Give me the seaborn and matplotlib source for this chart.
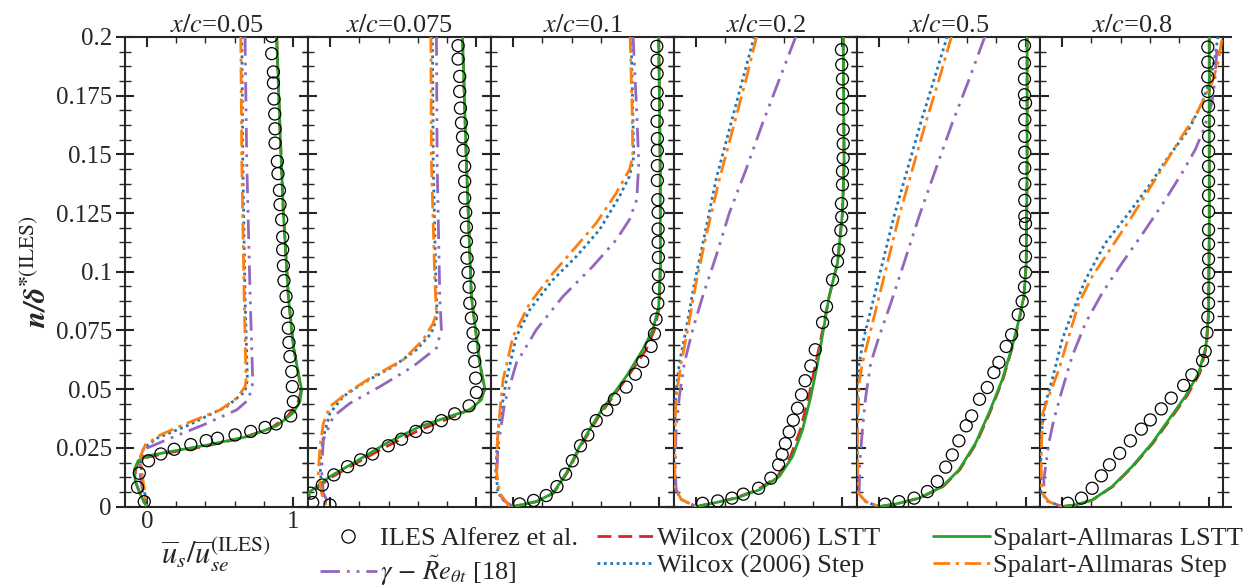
import numpy as np
import pandas as pd
import matplotlib
matplotlib.use("Agg")
import matplotlib.pyplot as plt
from matplotlib.lines import Line2D
from matplotlib.ticker import MultipleLocator, FuncFormatter
import seaborn as sns

# ---------------- data (u_s/u_se, n/delta*) ----------------
stations = ["0.05", "0.075", "0.1", "0.2", "0.5", "0.8"]

# x/c = 0.05
ILES_005 = [(0.852,0.2003),(0.852,0.1929),(0.864,0.1851),(0.864,0.1804),(0.868,0.1736),(0.873,0.1672),(0.875,0.1609),(0.875,0.1548),(0.891,0.1470),(0.895,0.1418),(0.905,0.1347),(0.909,0.1286),(0.920,0.1222),(0.927,0.1148),(0.927,0.1094),(0.932,0.1026),(0.936,0.0962),(0.950,0.0895),(0.959,0.0827),(0.966,0.0760),(0.970,0.0699),(0.977,0.0639),(0.989,0.0575),(0.993,0.0511),(1.000,0.0447),(0.982,0.0386),(0.882,0.0352),(0.807,0.0337),(0.709,0.0320),(0.602,0.0305),(0.482,0.0291),(0.405,0.0281),(0.300,0.0264),(0.186,0.0244),(0.095,0.0224),(0.011,0.0195),(-0.052,0.0142),(-0.064,0.0082),(-0.018,0.0021)]
WLSTT_005 = [(0.886,0.2003),(0.909,0.1605),(0.932,0.125),(0.966,0.0895),(1.0,0.0682),(1.034,0.0568),(1.052,0.0490),(1.030,0.0440),(0.960,0.0385),(0.850,0.0335),(0.650,0.0292),(0.400,0.0257),(0.140,0.0228),(0.0,0.0210),(-0.060,0.0190),(-0.080,0.0150),(-0.075,0.0100),(-0.050,0.0060),(-0.020,0.0020),(0.0,0.0)]
SALSTT_005 = [(0.886,0.2003),(0.909,0.1605),(0.932,0.125),(0.966,0.0895),(1.0,0.0682),(1.034,0.0568),(1.057,0.0497),(1.045,0.0447),(1.0,0.0400),(0.890,0.0345),(0.700,0.0300),(0.410,0.0262),(0.140,0.0232),(0.0,0.0215),(-0.060,0.0195),(-0.085,0.0160),(-0.080,0.0110),(-0.050,0.0060),(-0.020,0.0020),(0.0,0.0)]
WSTEP_005 = [(0.648,0.2003),(0.655,0.1463),(0.670,0.0895),(0.686,0.0540),(0.670,0.0490),(0.545,0.0426),(0.273,0.0344),(0.068,0.0291),(-0.023,0.0249),(-0.045,0.0199),(-0.034,0.0128),(-0.011,0.0043),(0.0,0.0)]
SASTEP_005 = [(0.641,0.2003),(0.648,0.1463),(0.664,0.0895),(0.677,0.0540),(0.670,0.0511),(0.614,0.0462),(0.500,0.0412),(0.273,0.0355),(0.091,0.0305),(-0.011,0.0263),(-0.045,0.0213),(-0.034,0.0142),(-0.011,0.0043),(0.0,0.0)]
GAMMA_005 = [(0.670,0.2003),(0.682,0.1463),(0.705,0.0895),(0.723,0.0526),(0.693,0.0455),(0.614,0.0412),(0.386,0.0348),(0.159,0.0291),(0.0,0.0249),(-0.045,0.0199),(-0.045,0.0128),(-0.023,0.0043),(0.0,0.0)]

# x/c = 0.075
ILES_0075 = [(0.875,0.1963),(0.875,0.1906),(0.886,0.1832),(0.886,0.1768),(0.891,0.1697),(0.898,0.1634),(0.905,0.1574),(0.909,0.1517),(0.920,0.1449),(0.920,0.1385),(0.920,0.1314),(0.927,0.1253),(0.932,0.1190),(0.932,0.1129),(0.936,0.1058),(0.943,0.0997),(0.950,0.0935),(0.955,0.0866),(0.966,0.0803),(0.977,0.0739),(0.982,0.0679),(0.989,0.0618),(0.995,0.0547),(1.000,0.0486),(0.950,0.0429),(0.852,0.0395),(0.761,0.0366),(0.664,0.0338),(0.586,0.0320),(0.489,0.0287),(0.398,0.0259),(0.291,0.0224),(0.209,0.0199),(0.120,0.0170),(0.027,0.0135),(-0.052,0.0092),(-0.132,0.0057),(-0.118,0.0017),(0.0,0.0007)]
WLSTT_0075 = [(0.905,0.2003),(0.932,0.1463),(0.966,0.0895),(1.023,0.0611),(1.057,0.0497),(1.0,0.0426),(0.864,0.0388),(0.614,0.0327),(0.386,0.0256),(0.159,0.0178),(0.0,0.0121),(-0.136,0.0057),(-0.16,0.002)]
SALSTT_0075 = [(0.905,0.2003),(0.932,0.1463),(0.966,0.0895),(1.023,0.0611),(1.057,0.0504),(1.034,0.0455),(0.955,0.0412),(0.818,0.0384),(0.614,0.0341),(0.386,0.0270),(0.159,0.0185),(0.0,0.0128),(-0.136,0.0064),(-0.16,0.003)]
WSTEP_0075 = [(0.700,0.2003),(0.705,0.1463),(0.723,0.0966),(0.732,0.0810),(0.693,0.0739),(0.591,0.0668),(0.432,0.0597),(0.227,0.0526),(0.091,0.0469),(0.0,0.0398),(-0.045,0.0298),(-0.068,0.0185),(-0.057,0.0071),(-0.023,0.0)]
SASTEP_0075 = [(0.689,0.2003),(0.693,0.1463),(0.716,0.0966),(0.727,0.0824),(0.705,0.0781),(0.636,0.0710),(0.5,0.0625),(0.273,0.0547),(0.114,0.0483),(0.0,0.0426),(-0.045,0.0355),(-0.068,0.0256),(-0.080,0.0142),(-0.057,0.0057),(-0.023,0.0)]
GAMMA_0075 = [(0.727,0.2003),(0.732,0.1463),(0.75,0.0895),(0.761,0.0753),(0.727,0.0675),(0.568,0.0597),(0.341,0.0511),(0.136,0.0440),(0.023,0.0384),(-0.045,0.0284),(-0.057,0.0156),(-0.045,0.0057),(0.0,0.0)]

# x/c = 0.1
ILES_01 = [(0.982,0.1960),(0.984,0.1901),(0.984,0.1844),(0.984,0.1764),(0.984,0.1712),(0.984,0.1641),(0.986,0.1567),(0.986,0.1517),(0.986,0.1452),(0.986,0.1389),(0.989,0.1307),(0.991,0.1253),(0.991,0.1182),(0.991,0.1126),(0.993,0.1061),(0.993,0.0987),(0.993,0.0930),(0.989,0.0866),(0.977,0.0798),(0.966,0.0736),(0.943,0.0682),(0.886,0.0618),(0.836,0.0564),(0.773,0.0509),(0.693,0.0457),(0.641,0.0412),(0.568,0.0366),(0.511,0.0305),(0.461,0.0259),(0.405,0.0195),(0.359,0.0138),(0.300,0.0085),(0.227,0.0047),(0.141,0.0026),(0.045,0.0011)]
WLSTT_01 = [(0.995,0.2003),(1.005,0.1463),(1.007,0.1037),(1.0,0.0852),(0.966,0.0753),(0.909,0.0668),(0.784,0.0554),(0.6,0.0398),(0.46,0.0256),(0.368,0.0142),(0.277,0.0057),(0.16,0.0021),(0.0,0.0)]
SALSTT_01 = [(0.995,0.2003),(1.005,0.1463),(1.007,0.1037),(0.995,0.0852),(0.955,0.0753),(0.886,0.0668),(0.773,0.0554),(0.591,0.0398),(0.455,0.0256),(0.364,0.0142),(0.273,0.0057),(0.159,0.0021),(0.0,0.0)]
WSTEP_01 = [(0.807,0.2003),(0.818,0.1676),(0.825,0.1491),(0.795,0.1406),(0.727,0.1321),(0.591,0.1179),(0.432,0.1065),(0.273,0.0966),(0.114,0.0838),(0.023,0.0724),(-0.045,0.0540),(-0.102,0.0327),(-0.118,0.0156),(-0.102,0.0057),(-0.023,0.0)]
SASTEP_01 = [(0.800,0.2003),(0.814,0.1676),(0.818,0.1491),(0.795,0.1435),(0.705,0.1335),(0.568,0.1207),(0.432,0.1108),(0.273,0.0994),(0.114,0.0866),(0.0,0.0724),(-0.068,0.0540),(-0.102,0.0327),(-0.114,0.0156),(-0.091,0.0057),(-0.023,0.0)]
GAMMA_01 = [(0.820,0.2003),(0.845,0.1676),(0.859,0.1463),(0.845,0.1307),(0.795,0.1222),(0.705,0.1136),(0.545,0.1023),(0.341,0.0895),(0.159,0.0753),(0.023,0.0611),(-0.057,0.0440),(-0.102,0.0256),(-0.114,0.0099),(-0.068,0.0028),(0.0,0.0)]

# x/c = 0.2
ILES_02 = [(0.993,0.1946),(0.995,0.1882),(1.0,0.1821),(1.0,0.1759),(1.0,0.1693),(1.005,0.1605),(1.005,0.1545),(1.005,0.1484),(1.0,0.1428),(1.0,0.1371),(0.993,0.1290),(0.995,0.1233),(0.989,0.1176),(0.973,0.1094),(0.966,0.1044),(0.932,0.0966),(0.891,0.0852),(0.864,0.0784),(0.814,0.0668),(0.784,0.0599),(0.745,0.0536),(0.720,0.0476),(0.693,0.0419),(0.664,0.0368),(0.636,0.0318),(0.610,0.0268),(0.588,0.0222),(0.564,0.0178),(0.511,0.0121),(0.427,0.0078),(0.323,0.0053),(0.245,0.0036),(0.148,0.0024),(0.045,0.0014)]
WLSTT_02 = [(1.005,0.2003),(1.011,0.1463),(1.0,0.125),(0.966,0.1037),(0.909,0.0895),(0.865,0.0753),(0.818,0.0611),(0.770,0.0469),(0.712,0.0327),(0.645,0.0213),(0.555,0.0128),(0.42,0.0071),(0.265,0.0036),(0.11,0.0014),(0.0,0.0)]
SALSTT_02 = [(1.005,0.2003),(1.011,0.1463),(1.0,0.125),(0.966,0.1037),(0.909,0.0895),(0.870,0.0753),(0.830,0.0611),(0.784,0.0469),(0.727,0.0327),(0.659,0.0213),(0.568,0.0128),(0.432,0.0071),(0.273,0.0036),(0.114,0.0014),(0.0,0.0)]
WSTEP_02 = [(0.398,0.2003),(0.318,0.1818),(0.227,0.1605),(0.136,0.1392),(0.057,0.1151),(-0.011,0.0952),(-0.068,0.0753),(-0.114,0.0611),(-0.14,0.0469),(-0.148,0.03),(-0.148,0.008),(-0.1,0.003),(0.0,0.0)]
SASTEP_02 = [(0.414,0.2003),(0.341,0.1818),(0.25,0.1605),(0.159,0.1392),(0.068,0.1151),(0.0,0.0952),(-0.057,0.0753),(-0.102,0.0611),(-0.136,0.0469),(-0.145,0.03),(-0.145,0.008),(-0.1,0.003),(0.0,0.0)]
GAMMA_02 = [(0.682,0.2003),(0.568,0.1818),(0.455,0.1634),(0.341,0.1435),(0.227,0.125),(0.136,0.1065),(0.045,0.0895),(-0.023,0.0753),(-0.080,0.0611),(-0.114,0.0469),(-0.136,0.0327),(-0.143,0.0185),(-0.136,0.0071),(-0.091,0.0028),(0.0,0.0)]

# x/c = 0.5
ILES_05 = [(0.993,0.1963),(0.993,0.1889),(0.993,0.1821),(0.993,0.1754),(1.0,0.1719),(0.995,0.1648),(0.995,0.1577),(0.995,0.1509),(0.995,0.1442),(0.995,0.1374),(0.995,0.1304),(0.995,0.1236),(1.0,0.1205),(1.0,0.1134),(1.0,0.1065),(1.0,0.0997),(0.993,0.0935),(0.977,0.0874),(0.950,0.0817),(0.905,0.0732),(0.868,0.0682),(0.818,0.0614),(0.784,0.0571),(0.739,0.0507),(0.686,0.0457),(0.632,0.0386),(0.595,0.0344),(0.545,0.0280),(0.5,0.0220),(0.455,0.0168),(0.398,0.0107),(0.330,0.0064),(0.239,0.0036),(0.136,0.0021),(0.041,0.0010)]
WLSTT_05 = [(1.011,0.2003),(1.011,0.1463),(1.005,0.1037),(0.989,0.0895),(0.958,0.0795),(0.912,0.0682),(0.845,0.0540),(0.755,0.0398),(0.664,0.0270),(0.55,0.0156),(0.436,0.0085),(0.276,0.0036),(0.115,0.0011),(0.0,0.0)]
SALSTT_05 = [(1.011,0.2003),(1.011,0.1463),(1.005,0.1037),(0.989,0.0895),(0.955,0.0795),(0.909,0.0682),(0.841,0.0540),(0.75,0.0398),(0.659,0.0270),(0.545,0.0156),(0.432,0.0085),(0.273,0.0036),(0.114,0.0011),(0.0,0.0)]
WSTEP_05 = [(0.466,0.2003),(0.375,0.1818),(0.284,0.1634),(0.193,0.1435),(0.102,0.1236),(0.023,0.1037),(-0.045,0.0866),(-0.102,0.0724),(-0.136,0.0611),(-0.148,0.0526),(-0.15,0.03),(-0.148,0.006),(-0.091,0.0021),(0.0,0.0)]
SASTEP_05 = [(0.495,0.2003),(0.409,0.1818),(0.318,0.1634),(0.227,0.1435),(0.136,0.1236),(0.057,0.1037),(-0.011,0.0866),(-0.068,0.0724),(-0.114,0.0611),(-0.136,0.0526),(-0.148,0.03),(-0.145,0.006),(-0.091,0.0021),(0.0,0.0)]
GAMMA_05 = [(0.723,0.2003),(0.614,0.1818),(0.5,0.1634),(0.386,0.1435),(0.273,0.1236),(0.170,0.1037),(0.080,0.0866),(0.0,0.0724),(-0.057,0.0611),(-0.091,0.0469),(-0.114,0.0327),(-0.132,0.0185),(-0.136,0.0057),(-0.091,0.0021),(0.0,0.0)]

# x/c = 0.8
ILES_08 = [(0.995,0.1957),(0.995,0.1893),(0.995,0.1830),(0.995,0.1768),(1.0,0.1705),(1.0,0.1641),(1.0,0.1577),(1.0,0.1513),(1.0,0.1449),(1.0,0.1385),(1.0,0.1325),(1.0,0.1257),(1.0,0.1179),(1.0,0.1118),(1.0,0.1054),(1.0,0.0994),(1.0,0.0930),(1.0,0.0866),(0.995,0.0807),(0.989,0.0741),(0.977,0.0661),(0.959,0.0622),(0.886,0.0561),(0.830,0.0516),(0.745,0.0462),(0.677,0.0416),(0.602,0.0369),(0.541,0.0330),(0.466,0.0280),(0.393,0.0227),(0.323,0.0178),(0.268,0.0131),(0.205,0.0078),(0.132,0.0036),(0.039,0.0014)]
WLSTT_08 = [(1.005,0.2003),(1.005,0.1179),(1.0,0.0824),(0.986,0.0682),(0.94,0.0568),(0.85,0.0469),(0.735,0.0369),(0.62,0.0270),(0.482,0.0170),(0.345,0.0085),(0.207,0.0028),(0.092,0.0007),(0.0,0.0)]
SALSTT_08 = [(1.005,0.2003),(1.005,0.1179),(1.0,0.0824),(0.982,0.0682),(0.932,0.0568),(0.841,0.0469),(0.727,0.0369),(0.614,0.0270),(0.477,0.0170),(0.341,0.0085),(0.205,0.0028),(0.091,0.0007),(0.0,0.0)]
WSTEP_08 = [(1.064,0.2003),(1.045,0.1918),(1.011,0.1818),(0.955,0.1719),(0.864,0.1605),(0.727,0.1491),(0.591,0.1364),(0.455,0.125),(0.295,0.1122),(0.159,0.0966),(0.068,0.0824),(0.0,0.0710),(-0.068,0.054),(-0.114,0.044),(-0.145,0.03),(-0.145,0.006),(-0.091,0.0021),(0.0,0.0)]
SASTEP_08 = [(1.091,0.1989),(1.064,0.1889),(1.023,0.1804),(0.977,0.1747),(0.909,0.1662),(0.818,0.1577),(0.705,0.1463),(0.591,0.1349),(0.477,0.1236),(0.341,0.1108),(0.205,0.0980),(0.114,0.0866),(0.045,0.0724),(-0.023,0.0582),(-0.091,0.0469),(-0.132,0.0398),(-0.145,0.02),(-0.14,0.006),(-0.091,0.0021),(0.0,0.0)]
GAMMA_08 = [(1.057,0.1946),(1.041,0.1804),(1.023,0.1719),(0.966,0.1605),(0.909,0.152),(0.818,0.142),(0.705,0.1307),(0.568,0.1179),(0.409,0.1037),(0.273,0.0909),(0.159,0.0781),(0.068,0.0639),(0.0,0.0497),(-0.057,0.0369),(-0.091,0.027),(-0.125,0.0114),(-0.125,0.0028),(0.0,0.0)]

ILES = [ILES_005, ILES_0075, ILES_01, ILES_02, ILES_05, ILES_08]
WLSTT = [WLSTT_005, WLSTT_0075, WLSTT_01, WLSTT_02, WLSTT_05, WLSTT_08]
SALSTT = [SALSTT_005, SALSTT_0075, SALSTT_01, SALSTT_02, SALSTT_05, SALSTT_08]
WSTEP = [WSTEP_005, WSTEP_0075, WSTEP_01, WSTEP_02, WSTEP_05, WSTEP_08]
SASTEP = [SASTEP_005, SASTEP_0075, SASTEP_01, SASTEP_02, SASTEP_05, SASTEP_08]
GAMMA = [GAMMA_005, GAMMA_0075, GAMMA_01, GAMMA_02, GAMMA_05, GAMMA_08]

labels = ["ILES Alferez et al.", r"$\gamma\,-\,\tilde{R}e_{\theta t}$ [18]",
          "Wilcox (2006) LSTT", "Wilcox (2006) Step",
          "Spalart-Allmaras LSTT", "Spalart-Allmaras Step"]

# ---------------- style ----------------
sns.set_theme(style="ticks")
plt.rcParams["font.family"] = ["Liberation Serif", "DejaVu Serif"]
plt.rcParams["mathtext.fontset"] = "stix"
plt.rcParams["axes.linewidth"] = 1.5

C_RED, C_BLUE, C_GREEN, C_ORANGE, C_PURPLE = "#d62728", "#1f77b4", "#2ca02c", "#ff7f0e", "#9467bd"
LS_RED = (0, (5, 2.5))
LS_BLUE = (0, (1, 1.3))
LS_ORANGE = (0, (6, 2, 1.2, 2))
LS_PURPLE = (0, (7, 2.5, 1, 2.5, 1, 2.5))
LW = 2.0
FS = 18

fig, axes = plt.subplots(1, 6, figsize=(12.52, 5.87), dpi=100, sharey=True)
fig.subplots_adjust(left=0.0998, right=0.977, top=0.937, bottom=0.137, wspace=0)

def line(ax, pts, **kw):
    df = pd.DataFrame(pts, columns=["u", "n"])
    sns.lineplot(data=df, x="u", y="n", sort=False, estimator=None, ax=ax, **kw)

for i, ax in enumerate(axes):
    line(ax, WLSTT[i], color=C_RED, linestyle=LS_RED, lw=LW, zorder=3)
    line(ax, WSTEP[i], color=C_BLUE, linestyle=LS_BLUE, lw=LW, zorder=3)
    line(ax, GAMMA[i], color=C_PURPLE, linestyle=LS_PURPLE, lw=LW, zorder=3)
    line(ax, SALSTT[i], color=C_GREEN, linestyle="-", lw=LW, zorder=4)
    line(ax, SASTEP[i], color=C_ORANGE, linestyle=LS_ORANGE, lw=LW, zorder=4)
    dfi = pd.DataFrame(ILES[i], columns=["u", "n"])
    sns.scatterplot(data=dfi, x="u", y="n", ax=ax, marker="o", s=75,
                    facecolor="none", edgecolor="black", linewidth=0.9, zorder=5)

    ax.set_xlim(-0.15, 1.1)
    ax.set_ylim(0, 0.2)
    ax.set_title(r"$x/c$=" + stations[i], fontsize=19, pad=3)
    ax.set_xlabel("")
    ax.set_ylabel("")
    ax.xaxis.set_major_locator(MultipleLocator(1))
    ax.xaxis.set_minor_locator(MultipleLocator(0.2))
    ax.yaxis.set_major_locator(MultipleLocator(0.025))
    ax.yaxis.set_minor_locator(MultipleLocator(0.00625))
    ax.tick_params(axis="x", which="both", direction="in", top=True, bottom=True)
    ax.tick_params(axis="x", which="major", length=7, width=1.5)
    ax.tick_params(axis="x", which="minor", length=4, width=1.0)
    ax.tick_params(axis="y", which="both", direction="inout", left=True, right=True)
    ax.tick_params(axis="y", which="major", length=13, width=1.5)
    ax.tick_params(axis="y", which="minor", length=9, width=1.0)
    ax.tick_params(labelsize=FS, pad=3)
    if i > 0:
        ax.tick_params(labelleft=False, labelbottom=False)

axes[0].yaxis.set_major_formatter(FuncFormatter(lambda v, p: "%g" % round(v, 4)))
axes[0].xaxis.set_major_formatter(FuncFormatter(lambda v, p: "%g" % v))
axes[0].set_ylabel(r"$\mathbfit{n/\delta}^{\mathbf{*}\mathrm{(ILES)}}$", fontsize=22, labelpad=2)
axes[0].set_xlabel(r"$\overline{u}_s/\overline{u}_{se}^{\mathrm{(ILES)}}$", fontsize=22, labelpad=2)

h_iles = Line2D([], [], marker="o", ls="none", mfc="none", mec="black", ms=9.5, mew=0.9)
h_gam = Line2D([], [], color=C_PURPLE, ls=LS_PURPLE, lw=LW)
h_wl = Line2D([], [], color=C_RED, ls=LS_RED, lw=LW)
h_ws = Line2D([], [], color=C_BLUE, ls=LS_BLUE, lw=LW)
h_sl = Line2D([], [], color=C_GREEN, ls="-", lw=LW)
h_ss = Line2D([], [], color=C_ORANGE, ls=LS_ORANGE, lw=LW)

cols = [([h_iles, h_gam], labels[0:2], 320),
        ([h_wl, h_ws], labels[2:4], 597),
        ([h_sl, h_ss], labels[4:6], 933)]
for hs, ls, x0 in cols:
    fig.legend(hs, ls, loc="upper left", bbox_to_anchor=(x0 / 1252, 1 - 527 / 587),
               ncol=1, frameon=False, fontsize=FS + 1, handlelength=2.15, handletextpad=0.12,
               labelspacing=0.12, borderpad=0, borderaxespad=0)

fig.savefig("out.png", dpi=100)
